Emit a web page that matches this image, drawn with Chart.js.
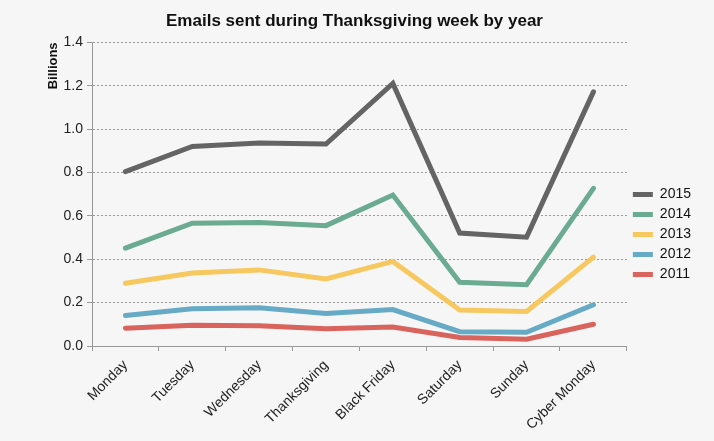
<!DOCTYPE html>
<html>
<head>
<meta charset="utf-8">
<script src="https://cdn.jsdelivr.net/npm/chart.js@4"></script>
<style>
  html, body { margin: 0; padding: 0; background: #f6f6f6; }
  #wrap { width: 714px; height: 441px; }
</style>
</head>
<body>
<div id="wrap"><canvas id="chart1" width="714" height="441"></canvas></div>
<script>
// days of thanksgiving week
var days = ["Monday", "Tuesday", "Wednesday", "Thanksgiving", "Black Friday", "Saturday", "Sunday", "Cyber Monday"];

// emails sent, billions
var y2015 = [0.804, 0.920, 0.936, 0.931, 1.211, 0.521, 0.502, 1.172];
var y2014 = [0.451, 0.566, 0.569, 0.555, 0.696, 0.294, 0.283, 0.727];
var y2013 = [0.289, 0.337, 0.351, 0.309, 0.390, 0.166, 0.159, 0.410];
var y2012 = [0.141, 0.172, 0.176, 0.150, 0.168, 0.066, 0.063, 0.190];
var y2011 = [0.082, 0.096, 0.093, 0.080, 0.088, 0.039, 0.031, 0.100];

var yTicks = [0, 0.2, 0.4, 0.6, 0.8, 1.0, 1.2, 1.4];

var fontFamily = "'Liberation Sans', Arial, Helvetica, sans-serif";

function series(label, data, color) {
    return {
        label: label,
        data: data,
        borderColor: color,
        backgroundColor: color,
        borderWidth: 5,
        borderCapStyle: "round",
        borderJoinStyle: "miter",
        pointRadius: 0,
        tension: 0,
        fill: false
    };
}

var bgPlugin = {
    id: "bg",
    beforeDraw: function (chart) {
        var c = chart.ctx;
        c.save();
        c.fillStyle = "#f6f6f6";
        c.fillRect(0, 0, chart.width, chart.height);
        c.restore();
    }
};

var ctx1 = document.getElementById("chart1").getContext("2d");
var chart1 = new Chart(ctx1, {
    type: "line",
    data: {
        labels: days,
        datasets: [
            series("2015", y2015, "#646464"),
            series("2014", y2014, "#6aab92"),
            series("2013", y2013, "#f6c85f"),
            series("2012", y2012, "#66aac6"),
            series("2011", y2011, "#d9645e")
        ]
    },
    plugins: [bgPlugin],
    options: {
        responsive: false,
        animation: false,
        layout: { padding: { left: 8, right: 13, top: 0, bottom: 0 } },
        plugins: {
            title: {
                display: true,
                text: "Emails sent during Thanksgiving week by year",
                color: "#111",
                font: { family: fontFamily, size: 17, weight: "bold" },
                padding: { top: 11, bottom: 11 }
            },
            legend: {
                position: "right",
                title: {
                    display: true,
                    text: " ",
                    font: { size: 10 },
                    padding: { top: 8, bottom: 8 }
                },
                labels: {
                    usePointStyle: true,
                    pointStyle: "line",
                    pointStyleWidth: 20,
                    color: "#111",
                    padding: 6,
                    font: { family: fontFamily, size: 14 }
                }
            },
            tooltip: { enabled: false }
        },
        scales: {
            x: {
                offset: true,
                afterFit: function (scale) { scale.height = 95; },
                grid: {
                    drawOnChartArea: false,
                    drawTicks: true,
                    tickLength: 5,
                    tickColor: "#999",
                    offset: true
                },
                border: { display: true, color: "#999", width: 1 },
                ticks: {
                    color: "#222",
                    minRotation: 45,
                    maxRotation: 45,
                    padding: 6,
                    font: { family: fontFamily, size: 14 }
                }
            },
            y: {
                min: 0,
                max: 1.4,
                afterFit: function (scale) { scale.width = 84; },
                afterBuildTicks: function (scale) {
                    scale.ticks = yTicks.map(function (v) { return { value: v }; });
                },
                title: {
                    display: true,
                    text: "Billions",
                    align: "end",
                    color: "#111",
                    font: { family: fontFamily, size: 13, weight: "bold" },
                    padding: { top: 38, bottom: 0 }
                },
                grid: {
                    color: "#999",
                    tickColor: "#999",
                    tickLength: 5,
                    lineWidth: 1
                },
                border: { display: true, color: "#999", width: 1, dash: [2, 2] },
                ticks: {
                    color: "#222",
                    padding: 4,
                    font: { family: fontFamily, size: 14 },
                    callback: function (v) { return Number(v).toFixed(1); }
                }
            }
        }
    }
});
</script>
</body>
</html>
